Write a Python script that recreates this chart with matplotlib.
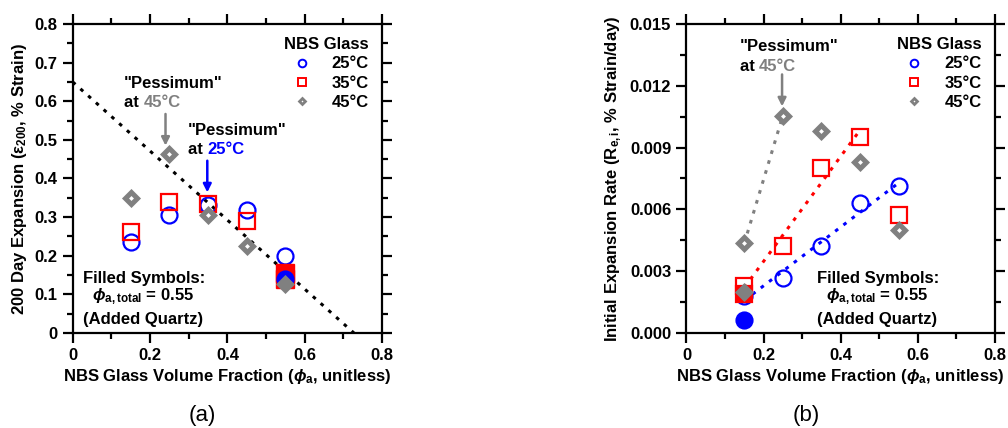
import numpy as np
import matplotlib
matplotlib.use("Agg")
import matplotlib.pyplot as plt
from matplotlib.lines import Line2D
from matplotlib.ticker import MultipleLocator, FuncFormatter

plt.rcParams['font.family'] = ['Liberation Sans', 'DejaVu Sans']
plt.rcParams['font.weight'] = 'bold'
plt.rcParams['axes.labelweight'] = 'bold'
plt.rcParams['font.size'] = 12
plt.rcParams['mathtext.fontset'] = 'custom'
plt.rcParams['mathtext.rm'] = 'Liberation Sans:bold'
plt.rcParams['mathtext.bf'] = 'Liberation Sans:bold'
plt.rcParams['mathtext.it'] = 'Liberation Sans:italic:bold'

BLUE = '#0000FF'
RED = '#FF0000'
GRAY = '#808080'

# ---------------- Panel (a): 200 day expansion ----------------
phi = [0.15, 0.25, 0.35, 0.45, 0.55]
exp25 = [0.236, 0.306, 0.332, 0.319, 0.199]
exp35 = [0.262, 0.340, 0.334, 0.291]
exp45 = [0.349, 0.463, 0.306, 0.226]
phi_filled = [0.55]
exp25_filled = [0.140]
exp35_filled_x = [0.55, 0.55]
exp35_filled = [0.154, 0.140]
exp45_filled = [0.128]
limit_x = [0.0, 0.727]
limit_y = [0.65, 0.0]

# ---------------- Panel (b): initial expansion rate ----------------
rate25 = [0.0018, 0.00268, 0.00424, 0.00630, 0.00712]
rate35 = [0.0023, 0.00424, 0.00802, 0.00953, 0.00573]
rate45 = [0.00435, 0.01055, 0.00980, 0.00831, 0.00500]
phi_b_filled = [0.15]
rate25_filled = [0.00063]
rate35_filled = [0.0019]
rate45_filled = [0.00200]

fig = plt.figure(figsize=(10.08, 4.28), dpi=100)
ax1 = fig.add_axes([0.0721, 0.222, 0.307, 0.722])
ax2 = fig.add_axes([0.681, 0.222, 0.306, 0.722])

circ = dict(marker='o', ls='none', ms=11.5, mew=1.6, mfc='none', mec=BLUE)
sq = dict(marker='s', ls='none', ms=11.5, mew=1.6, mfc='none', mec=RED)
dia = dict(marker='D', ls='none', ms=6.0, mew=3.6, mfc='white', mec=GRAY)


def style_axes(ax, ymax, ymajor, yminor, yfmt):
    ax.set_xlim(0, 0.8)
    ax.set_ylim(0, ymax)
    ax.xaxis.set_major_locator(MultipleLocator(0.2))
    ax.xaxis.set_minor_locator(MultipleLocator(0.1))
    ax.yaxis.set_major_locator(MultipleLocator(ymajor))
    ax.yaxis.set_minor_locator(MultipleLocator(yminor))
    ax.xaxis.set_major_formatter(FuncFormatter(
        lambda v, p: '0' if abs(v) < 1e-9 else f'{v:.1f}'))
    ax.yaxis.set_major_formatter(FuncFormatter(yfmt))
    for s in ax.spines.values():
        s.set_linewidth(1.6)
    ax.tick_params(which='major', direction='out', length=7, width=1.6,
                   top=True, right=True, labelsize=12, pad=4)
    ax.tick_params(which='minor', direction='out', length=4.5, width=1.6,
                   top=True, right=True)
    ax.set_xlabel(r'NBS Glass Volume Fraction ($\phi_{\mathregular{a}}$, unitless)',
                  fontsize=12, labelpad=3)


def legend(ax):
    h = [Line2D([], [], marker='o', ls='none', ms=5.5, mew=1.4, mfc='none', mec=BLUE),
         Line2D([], [], marker='s', ls='none', ms=5.5, mew=1.4, mfc='none', mec=RED),
         Line2D([], [], marker='D', ls='none', ms=3.0, mew=2.0, mfc='white', mec=GRAY)]
    leg = ax.legend(h, ['25°C', '35°C', '45°C'], title='NBS Glass', loc='upper right',
                    frameon=False, handlelength=1.0, handletextpad=1.3,
                    labelspacing=0.25, borderaxespad=0.4, alignment='right',
                    prop=dict(weight='bold', size=12),
                    title_fontproperties=dict(weight='bold', size=12))
    return leg


def colored_line(ax, x, y, first, second, color):
    t = ax.text(x, y, first, ha='left', va='center', fontsize=12, fontweight='bold')
    ax.annotate(second, xy=(1, 0), xycoords=t, ha='left', va='bottom',
                fontsize=12, fontweight='bold', color=color)


def filled_note(ax, x, y0, y1, y2):
    ax.text(x[0], y0, 'Filled Symbols:', ha='left', va='center', fontsize=12)
    ax.text(x[1], y1, r'$\phi_{\mathregular{a,total}}$ = 0.55', ha='left', va='center',
            fontsize=12)
    ax.text(x[0], y2, '(Added Quartz)', ha='left', va='center', fontsize=12)


# ---- Panel (a)
ax = ax1
ax.plot(limit_x, limit_y, color='black', lw=2.2, ls=(0, (1.2, 2.2)), zorder=1)
ax.plot(phi, exp25, **circ, zorder=3)
ax.plot(phi[:4], exp35, **sq, zorder=3)
ax.plot(phi[:4], exp45, **dia, zorder=3)
ax.plot(exp35_filled_x, exp35_filled, marker='s', ls='none', ms=13, mew=1.0,
        mfc=RED, mec=RED, zorder=4)
ax.plot(phi_filled, exp25_filled, marker='o', ls='none', ms=11.5, mew=1.6,
        mfc=BLUE, mec=BLUE, zorder=4)
ax.plot(phi_filled, exp45_filled, marker='D', ls='none', ms=6.0, mew=3.6,
        mfc=GRAY, mec=GRAY, zorder=5)
style_axes(ax, 0.8, 0.1, 0.05,
           lambda v, p: '0' if abs(v) < 1e-9 else f'{v:.1f}')
ax.set_ylabel(r'200 Day Expansion ($\mathregular{\varepsilon_{200}}$, % Strain)',
              fontsize=12, labelpad=4)
legend(ax)
ax.text(0.133, 0.645, '"Pessimum"', ha='left', va='center', fontsize=12)
colored_line(ax, 0.133, 0.596, 'at ', '45°C', GRAY)
ax.annotate('', xy=(0.24, 0.485), xytext=(0.24, 0.567),
            arrowprops=dict(arrowstyle='-|>', color=GRAY, lw=1.8,
                            mutation_scale=12, shrinkA=0, shrinkB=0))
ax.text(0.298, 0.524, '"Pessimum"', ha='left', va='center', fontsize=12)
colored_line(ax, 0.298, 0.474, 'at ', '25°C', BLUE)
ax.annotate('', xy=(0.348, 0.364), xytext=(0.348, 0.446),
            arrowprops=dict(arrowstyle='-|>', color=BLUE, lw=1.8,
                            mutation_scale=12, shrinkA=0, shrinkB=0))
filled_note(ax, (0.026, 0.049), 0.142, 0.094, 0.036)

# ---- Panel (b)
ax = ax2
fit_style = dict(lw=2.2, ls=(0, (1.2, 2.2)), zorder=2)
x45 = np.array(phi[:2])
ax.plot(x45, np.polyval(np.polyfit(x45, rate45[:2], 1), x45), color=GRAY, **fit_style)
x35 = np.array(phi[:4])
ax.plot(x35, np.polyval(np.polyfit(x35, rate35[:4], 1), x35), color=RED, **fit_style)
x25 = np.array(phi)
ax.plot(x25, np.polyval(np.polyfit(x25, rate25, 1), x25), color=BLUE, **fit_style)
ax.plot(phi, rate25, **circ, zorder=3)
ax.plot(phi_b_filled, rate35_filled, marker='s', ls='none', ms=11.5, mew=1.6,
        mfc=RED, mec=RED, zorder=3)
ax.plot(phi, rate35, **sq, zorder=3)
ax.plot(phi, rate45, **dia, zorder=3)
ax.plot(phi_b_filled, rate25_filled, marker='o', ls='none', ms=11.5, mew=1.6,
        mfc=BLUE, mec=BLUE, zorder=4)
ax.plot(phi_b_filled, rate45_filled, marker='D', ls='none', ms=6.0, mew=3.6,
        mfc=GRAY, mec=GRAY, zorder=5)
style_axes(ax, 0.015, 0.003, 0.0015,
           lambda v, p: f'{v:.3f}')
ax.set_ylabel(r'Initial Expansion Rate (R$_{\mathregular{e,i}}$, % Strain/day)',
              fontsize=12, labelpad=4)
legend(ax)
ax.text(0.138, 0.0139, '"Pessimum"', ha='left', va='center', fontsize=12)
colored_line(ax, 0.138, 0.01293, 'at ', '45°C', GRAY)
ax.annotate('', xy=(0.248, 0.0110), xytext=(0.248, 0.01255),
            arrowprops=dict(arrowstyle='-|>', color=GRAY, lw=1.8,
                            mutation_scale=12, shrinkA=0, shrinkB=0))
filled_note(ax, (0.339, 0.363), 0.00266, 0.00176, 0.00067)

fig.text(0.2004, 0.030, '(a)', ha='center', va='center', fontsize=16,
         fontweight='normal')
fig.text(0.800, 0.030, '(b)', ha='center', va='center', fontsize=16,
         fontweight='normal')

fig.savefig('out.png', dpi=100)
